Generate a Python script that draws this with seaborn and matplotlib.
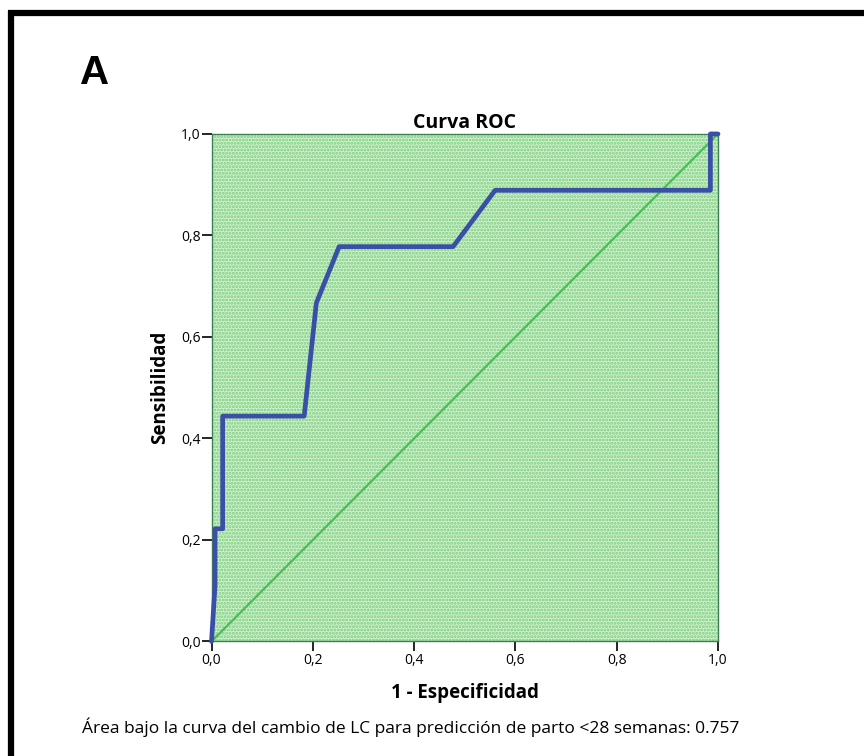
import matplotlib
matplotlib.use("Agg")
import matplotlib.pyplot as plt
import seaborn as sns
import pandas as pd
from matplotlib.patches import Rectangle
from matplotlib.lines import Line2D

# datos de la curva ROC
fpr = [0.0, 0.007, 0.007, 0.022, 0.022, 0.183, 0.207, 0.252, 0.477, 0.560, 0.985, 0.985, 1.0]
tpr = [0.0, 0.111, 0.222, 0.222, 0.444, 0.444, 0.667, 0.778, 0.778, 0.889, 0.889, 1.0, 1.0]
ref_x = [0.0, 1.0]
ref_y = [0.0, 1.0]
ticks = [0.0, 0.2, 0.4, 0.6, 0.8, 1.0]
tick_labels = ['0,0', '0,2', '0,4', '0,6', '0,8', '1,0']
auc_text = 'Área bajo la curva del cambio de LC para predicción de parto <28 semanas: 0.757'

sns.set_style("white")
plt.rcParams['font.family'] = ['Open Sans', 'DejaVu Sans']
plt.rcParams['hatch.linewidth'] = 1.4
plt.rcParams['text.color'] = 'black'
plt.rcParams['axes.labelcolor'] = 'black'
plt.rcParams['xtick.color'] = 'black'
plt.rcParams['ytick.color'] = 'black'

roc_df = pd.DataFrame({'fpr': fpr, 'tpr': tpr})
ref_df = pd.DataFrame({'x': ref_x, 'y': ref_y})

fig = plt.figure(figsize=(8.64, 7.56), dpi=100)
ax = fig.add_axes([0.2448, 0.1515, 0.5862, 0.6713])

# fondo verde punteado
ax.add_patch(Rectangle((0, 0), 1, 1, facecolor='#cdf2cd', edgecolor='#7dcc7d',
                       hatch='.....', lw=0, zorder=0))

sns.lineplot(data=ref_df, x='x', y='y', ax=ax, color='#4cbb5a', lw=1.6,
             estimator=None, sort=False, zorder=2)
sns.lineplot(data=roc_df, x='fpr', y='tpr', ax=ax, color='#3a4fa6', lw=3.4,
             estimator=None, sort=False, zorder=3, clip_on=False)

ax.set_xlim(0, 1)
ax.set_ylim(0, 1)
ax.set_xticks(ticks)
ax.set_xticklabels(tick_labels)
ax.set_yticks(ticks)
ax.set_yticklabels(tick_labels)
ax.tick_params(axis='both', direction='out', length=7, width=1.2, color='black',
               labelsize=10, left=True, bottom=True, pad=1)
for s in ax.spines.values():
    s.set_color('#3f7f55')
    s.set_linewidth(1.0)

ax.set_title('Curva ROC', fontsize=14, fontweight='bold', pad=4)
ax.set_xlabel('1 - Especificidad', fontsize=13.5, fontweight='bold', labelpad=11)
ax.set_ylabel('Sensibilidad', fontsize=13.5, fontweight='bold', labelpad=8)

fig.text(0.093, 0.903, 'A', fontsize=29, fontweight='bold',
         family=['Liberation Sans', 'DejaVu Sans'], ha='left', va='center')
fig.text(0.475, 0.038, auc_text, fontsize=12.5, ha='center', va='center')

# marco negro
fig.add_artist(Line2D([0.009, 1.0], [0.983, 0.983], color='black', lw=4.5,
                      transform=fig.transFigure, solid_capstyle='butt'))
fig.add_artist(Line2D([0.013, 0.013], [0.0, 0.986], color='black', lw=4.5,
                      transform=fig.transFigure, solid_capstyle='butt'))

fig.savefig('out.png', dpi=100)
